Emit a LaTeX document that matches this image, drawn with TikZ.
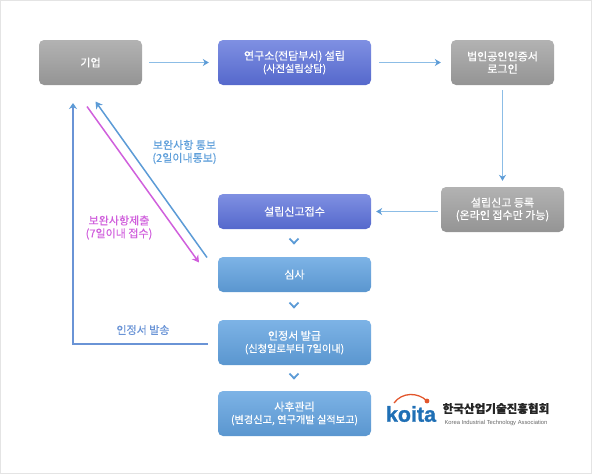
\documentclass[tikz,border=0pt]{standalone}
\usepackage{fontspec}
\setmainfont[RawFeature={embolden=0.35}]{Noto Sans CJK KR}
\newfontfamily\latinfont{Liberation Sans}
\newfontfamily\koitafont[RawFeature={embolden=1.2}]{Liberation Sans}
\usetikzlibrary{arrows.meta,calc}
\definecolor{arrowblue}{HTML}{8CBDE6}
\definecolor{lineblue}{HTML}{5C9BD6}
\definecolor{framegray}{HTML}{E4E4E4}
\definecolor{labelblue}{HTML}{5F9FDA}
\definecolor{certblue}{HTML}{6A94D6}
\definecolor{magentaline}{HTML}{D05FDC}
\definecolor{koitablue}{HTML}{1F6FB5}
\definecolor{koitaorange}{HTML}{E2552B}
\definecolor{indigoT}{HTML}{7F90E2}
\definecolor{indigoB}{HTML}{5568CC}
\definecolor{skyT}{HTML}{7DB3E6}
\definecolor{skyB}{HTML}{5A96CF}
\newcommand{\subtxt}{\fontsize{10.2}{12.5}\selectfont}
\tikzset{
  base/.style={rounded corners=5pt,text=white,align=center,font=\fontsize{11}{12.5}\selectfont,inner sep=0pt,minimum height=45pt},
  graybox/.style={base,top color=black!30,bottom color=black!42},
  indigobox/.style={base,top color=indigoT,bottom color=indigoB},
  skybox/.style={base,top color=skyT,bottom color=skyB},
  flow/.style={draw=arrowblue,line width=1.8pt,-{Stealth[length=6pt,width=7pt,color=lineblue]}},
  feedback/.style={draw=lineblue,line width=1.5pt,-{Stealth[length=7pt,width=8pt]}},
  chevron/.style={draw=lineblue,line width=1.8pt},
  lab/.style={font=\fontsize{11}{12.8}\selectfont,align=center,inner sep=0pt},
}
\begin{document}
\begin{tikzpicture}[x=1pt,y=-1pt]
\useasboundingbox (0,0) rectangle (592,474);
\draw[framegray,line width=1.2pt] (0.6,0.6) rectangle (591.4,473.4);

\node[graybox,minimum width=103pt] (gieop) at (90.5,62.5) {기업};
\node[indigobox,minimum width=153pt] (yeongu) at (294.5,62.5) {연구소(전담부서) 설립\\{\subtxt(사전설립상담)}};
\node[graybox,minimum width=103pt] (login) at (502.5,62.5) {법인공인인증서\\로그인};
\node[graybox,minimum width=123pt] (reg) at (502.5,209.5) {설립신고 등록\\(온라인 접수만 가능)};
\node[indigobox,minimum width=153pt,minimum height=35pt] (recv) at (294.5,211.5) {설립신고접수};
\node[skybox,minimum width=153pt,minimum height=35pt] (review) at (294.5,274.5) {심사};
\node[skybox,minimum width=153pt] (cert) at (294.5,342.5) {인정서 발급\\{\subtxt(신청일로부터 7일이내)}};
\node[skybox,minimum width=153pt] (after) at (294.5,413.5) {사후관리\\{\subtxt(변경신고, 연구개발 실적보고)}};

\draw[flow,shorten <=7pt,shorten >=9pt] (gieop) -- (yeongu);
\draw[flow,shorten <=8pt,shorten >=10pt] (yeongu) -- (login);
\draw[flow,shorten <=5pt,shorten >=6pt] (login) -- (reg);
\draw[flow,shorten <=3pt,shorten >=5pt] (reg.west |- recv) -- (recv);

\coordinate (upEnd) at (73,103);
\coordinate (certTurn) at (73,344);
\coordinate (certOut) at (208,344);
\draw[draw=certblue,line width=1.6pt,-{Stealth[length=6pt,width=8pt,color=lineblue]},line join=miter] (certOut) -- (certTurn) -- (upEnd);

\coordinate (blueFrom) at (207,257.5);
\coordinate (blueTo) at (95.5,101.5);
\draw[feedback] (blueFrom) -- (blueTo);
\coordinate (magFrom) at (87,106.5);
\coordinate (magTo) at (199,262.5);
\draw[draw=magentaline,line width=1.5pt,-{Stealth[length=7pt,width=8pt]}] (magFrom) -- (magTo);

\node[lab,text=labelblue] (l1) at (184.5,152) {보완사항 통보\\(2일이내통보)};
\node[lab,text=magentaline] (l2) at (119,227.5) {보완사항제출\\(7일이내 접수)};
\node[lab,text=certblue] (l3) at (143,330) {인정서 발송};

\foreach \n/\y in {c1/241.5,c2/305.5,c3/376.5}{
  \coordinate (\n) at (294,\y);
  \draw[chevron] ($(\n)+(-4.5,-3)$) -- ($(\n)+(0,1.8)$) -- ($(\n)+(4.5,-3)$);
}

% logo
\node[font=\koitafont\bfseries\fontsize{21.5}{22}\selectfont,text=koitablue,inner sep=0pt] (koita) at (411,414) {koita};
\coordinate (arcA) at (394,403);
\coordinate (arcB) at (427,401);
\draw[koitaorange,line width=1.3pt] (arcA) .. controls (402,392) and (418,392) .. (arcB);
\fill[koitaorange] (arcB) circle (2.4pt);
\node[font=\bfseries\fontsize{11.6}{12}\selectfont,inner sep=0pt,text=black!85] (kname) at (496,408.5) {한국산업기술진흥협회};
\node[font=\latinfont\fontsize{5.8}{6}\selectfont,inner sep=0pt,text=black!60] (ename) at (496,422.5) {Korea Industrial Technology Association};
\end{tikzpicture}
\end{document}
